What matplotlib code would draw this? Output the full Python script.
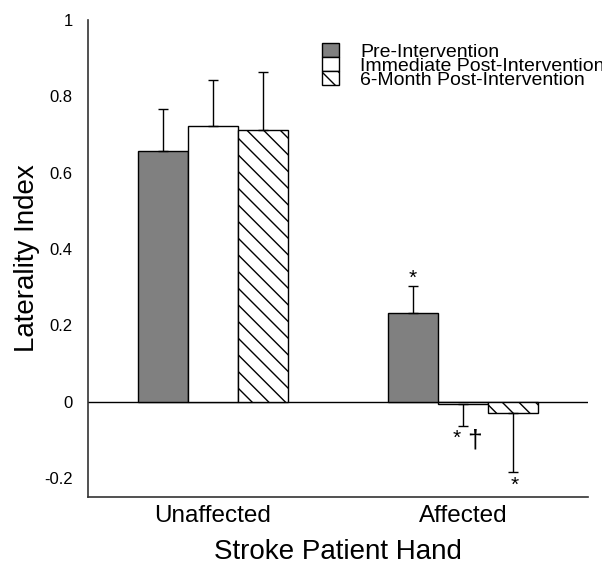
import numpy as np
import matplotlib
matplotlib.use('Agg')
import matplotlib.pyplot as plt

plt.rcParams['font.family'] = ['Liberation Sans', 'DejaVu Sans']
plt.rcParams['hatch.linewidth'] = 1.0

# data
hands = ['Unaffected', 'Affected']
series = ['Pre-Intervention', 'Immediate Post-Intervention', '6-Month Post-Intervention']
pre_vals = [0.658, 0.231]
pre_err = [0.109, 0.073]
imm_vals = [0.721, -0.005]
imm_err = [0.121, 0.058]
six_vals = [0.713, -0.030]
six_err = [0.150, 0.154]
stars = [['', '*'], ['', '*'], ['', '*']]
daggers = [['', ''], ['', '\u2020'], ['', '']]

yticks = [-0.2, 0, 0.2, 0.4, 0.6, 0.8, 1]
ytick_labels = ['-0.2', '0', '0.2', '0.4', '0.6', '0.8', '1']

fig = plt.figure(figsize=(6.02, 5.65), dpi=100)
ax = fig.add_axes([88 / 602, 1 - 497 / 565, (588 - 88) / 602, (497 - 20) / 565])

x = np.arange(len(hands))
w = 0.2
styles = [dict(color='#808080', edgecolor='black'),
          dict(color='white', edgecolor='black'),
          dict(color='white', edgecolor='black', hatch='\\\\')]
all_vals = [pre_vals, imm_vals, six_vals]
all_err = [pre_err, imm_err, six_err]

for i, (vals, errs, st, name) in enumerate(zip(all_vals, all_err, styles, series)):
    xs = x + (i - 1) * w
    vals = np.array(vals)
    errs = np.array(errs)
    ax.bar(xs, vals, w, linewidth=1, label=name, zorder=2, **st)
    lower = np.where(vals < 0, errs, 0)
    upper = np.where(vals < 0, 0, errs)
    ax.errorbar(xs, vals, yerr=[lower, upper], fmt='none', ecolor='black',
                elinewidth=1, capsize=3.5, capthick=1, zorder=3)
    # significance marks
    for j in range(len(hands)):
        s = stars[i][j]
        d = daggers[i][j]
        if not s:
            continue
        if vals[j] >= 0:
            ax.annotate(s, (xs[j], vals[j] + errs[j]), xytext=(0, 1.5),
                        textcoords='offset points', ha='center', va='baseline', fontsize=15)
        elif d:
            ax.annotate(s, (xs[j], vals[j] - errs[j]), xytext=(-4.5, -13),
                        textcoords='offset points', ha='center', va='baseline', fontsize=15)
            ax.annotate(d, (xs[j], vals[j] - errs[j]), xytext=(8, -16),
                        textcoords='offset points', ha='center', va='baseline', fontsize=19)
        else:
            ax.annotate(s, (xs[j], vals[j] - errs[j]), xytext=(1, -14),
                        textcoords='offset points', ha='center', va='baseline', fontsize=15)

ax.axhline(0, color='black', linewidth=1, zorder=1)

ax.set_xlim(-0.5, 1.5)
ax.set_ylim(-0.25, 1.0)
ax.set_xticks(x)
ax.set_xticklabels(hands, fontsize=17.5)
ax.set_yticks(yticks)
ax.set_yticklabels(ytick_labels, fontsize=12)
ax.tick_params(axis='both', length=0)
ax.tick_params(axis='y', pad=11)
ax.tick_params(axis='x', pad=5.5)

for s in ['top', 'right']:
    ax.spines[s].set_visible(False)
for s in ['left', 'bottom']:
    ax.spines[s].set_color('#333333')
    ax.spines[s].set_linewidth(1.2)

ax.set_ylabel('Laterality Index', fontsize=20, labelpad=3)
ax.set_xlabel('Stroke Patient Hand', fontsize=20, labelpad=9)

ax.legend(loc='upper left', bbox_to_anchor=(322 / 602, 1 - 43 / 565),
          bbox_transform=fig.transFigure, frameon=False, fontsize=14,
          borderpad=0, borderaxespad=0, labelspacing=-0.2,
          handlelength=0.85, handleheight=0.75, handletextpad=1.1)

fig.savefig('out.png', dpi=100)
